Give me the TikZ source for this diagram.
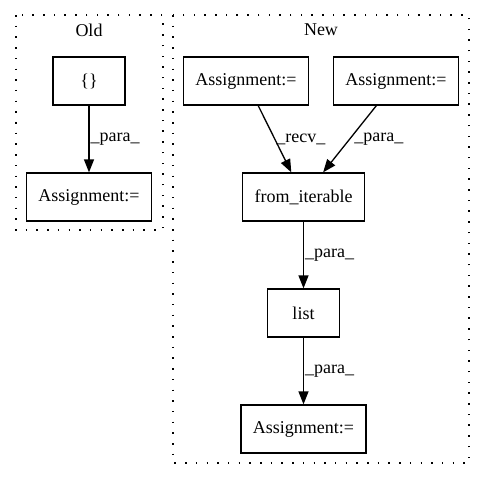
\documentclass[tikz,border=0pt]{standalone}
\usepackage{fontspec}
\setmainfont{Liberation Serif}
\usetikzlibrary{arrows.meta}
\tikzstyle{block} = [rectangle, minimum width = 72pt, minimum height = 48pt, inner xsep = 12pt, text centered, draw = black, line width = 1.3pt, fill = white]
\tikzstyle{arrow} = [line width = 1.3pt, -{Triangle[length=13pt, width=10pt]}]
\tikzstyle{cluster} = [line width = 1.3pt, dash pattern = on 1.5pt off 9.2pt]
\tikzstyle{elabel} = [right, inner sep = 1pt]

\begin{document}
\begin{tikzpicture}[x = 1pt, y = 1pt, node distance = 116pt, font = \fontsize{18}{21}\selectfont]
\useasboundingbox (0,0) rectangle (485,-480);

% Old
\draw [cluster] (16,-15) rectangle (163,-230);
\node (oldtitle) at (89,-30) {Old};
\node (obrace) [block] at (89,-81) {\{\}};
\node (oassign) [block, below of = obrace] {Assignment:=};

% New
\draw [cluster] (173,-15) rectangle (469,-463);
\node (newtitle) at (321,-30) {New};
\node (nassignA) [block] at (246,-81) {Assignment:=};
\node (nassignB) [block] at (396,-81) {Assignment:=};
\node (fromit) [block] at (303.5,-197) {from\_iterable};
\node (lst) [block, below of = fromit] {list};
\node (nassignC) [block, below of = lst] {Assignment:=};


\draw [arrow] (obrace) -- node[elabel] {\_para\_} (oassign);
\draw [arrow] (nassignA) -- node[elabel] {\_recv\_} (fromit);
\draw [arrow] (nassignB) -- node[elabel, xshift = 3pt] {\_para\_} (fromit);
\draw [arrow] (fromit) -- node[elabel] {\_para\_} (lst);
\draw [arrow] (lst) -- node[elabel] {\_para\_} (nassignC);


\end{tikzpicture}
\end{document}
